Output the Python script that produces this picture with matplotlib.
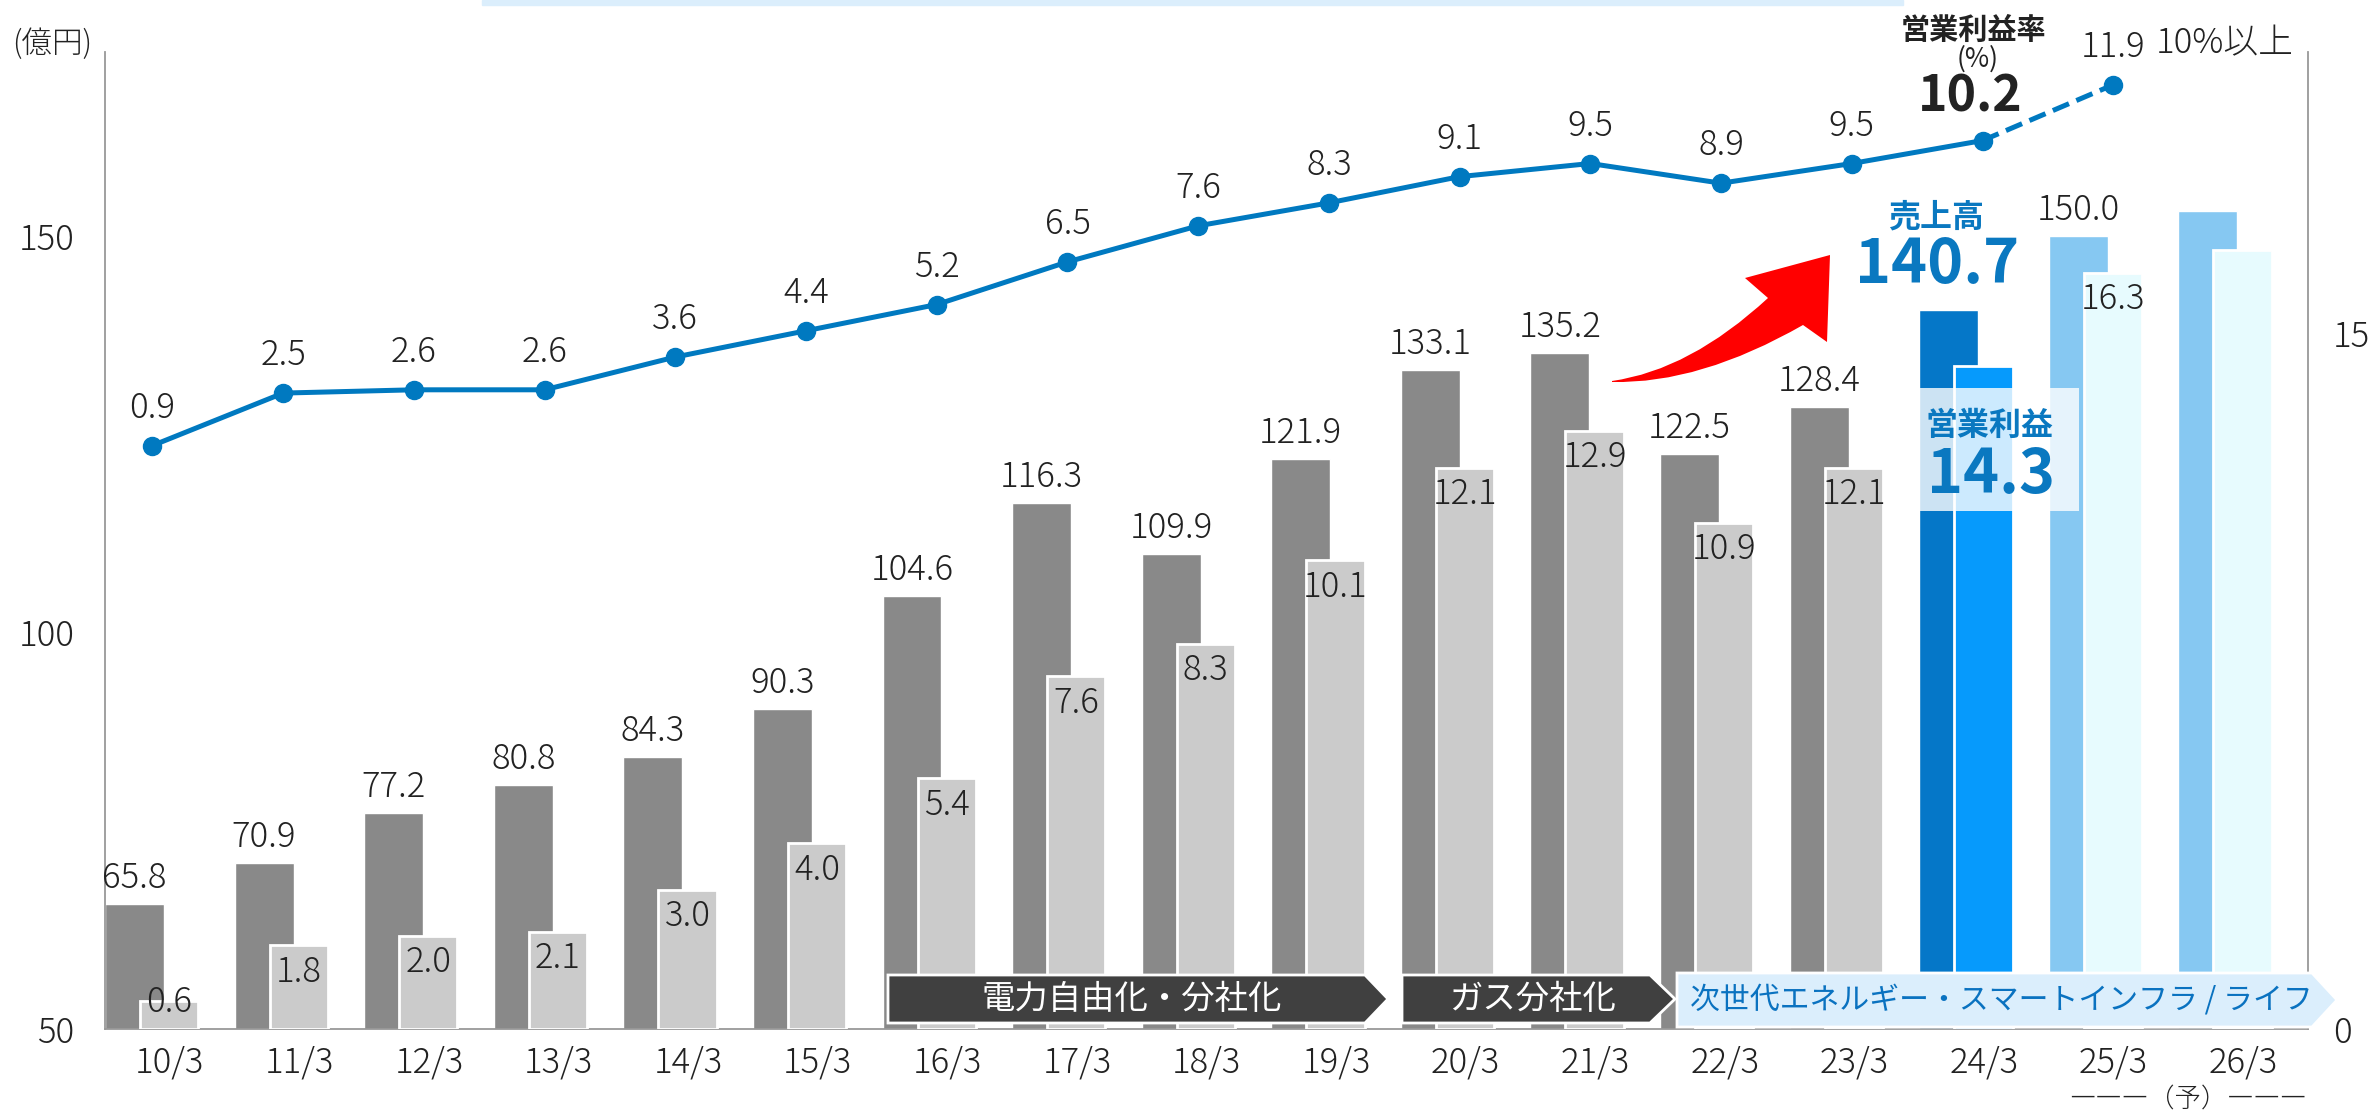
import numpy as np
import matplotlib.pyplot as plt
import matplotlib.transforms as mtransforms
from matplotlib.patches import Polygon, Rectangle, PathPatch
from matplotlib.path import Path

plt.rcParams['font.family'] = ['Noto Sans CJK JP', 'DejaVu Sans']
plt.rcParams['font.weight'] = 'light'

years = ['10/3', '11/3', '12/3', '13/3', '14/3', '15/3', '16/3', '17/3', '18/3',
         '19/3', '20/3', '21/3', '22/3', '23/3', '24/3', '25/3', '26/3']
sales = [65.8, 70.9, 77.2, 80.8, 84.3, 90.3, 104.6, 116.3, 109.9,
         121.9, 133.1, 135.2, 122.5, 128.4, 140.7, 150.0, 153.2]   # 売上高 (億円)
profit = [0.6, 1.8, 2.0, 2.1, 3.0, 4.0, 5.4, 7.6, 8.3,
          10.1, 12.1, 12.9, 10.9, 12.1, 14.3, 16.3, 16.8]          # 営業利益 (億円)
margin = [0.9, 2.5, 2.6, 2.6, 3.6, 4.4, 5.2, 6.5, 7.6,
          8.3, 9.1, 9.5, 8.9, 9.5, 10.2, 11.9]                      # 営業利益率 (%)

sales_colors = ['#898989'] * 14 + ['#0577c8', '#86c8f2', '#86c8f2']
profit_colors = ['#cbcbcb'] * 14 + ['#069afc', '#e7fbfe', '#e7fbfe']
no_label = [14, 16]   # 24/3 gets the callout, 26/3 has no figures
cur = 14              # latest actual year

TXT = '#222222'
BLUE = '#0a78c0'
LINE = '#0079c0'
FS = 25

W, H = 2374, 1112
fig = plt.figure(figsize=(W / 100, H / 100), dpi=100)
# pixel coords, origin top-left, for the decorations
img = mtransforms.Affine2D().scale(1 / W, -1 / H).translate(0, 1) + fig.transFigure

pos = [105 / W, 1 - 1029 / H, (2308 - 105) / W, (1029 - 52) / H]
ax = fig.add_axes(pos)
ax2 = ax.twinx()
ax3 = fig.add_axes(pos)
ax3.axis('off')

x = np.arange(len(years))
ax.bar(x, sales, width=0.455, align='edge', color=sales_colors,
       edgecolor='white', linewidth=1.0)
ax2.bar(x + 0.27, profit, width=0.45, align='edge', color=profit_colors,
        edgecolor='white', linewidth=2.0)

ax.set_xlim(0, 17)
ax.set_ylim(50, 173.2)
ax2.set_ylim(0, 21.06)
ax.set_xticks(x + 0.5)
ax.set_xticklabels(years)
ax.set_yticks([50, 100, 150])
ax2.set_yticks([0, 15])
ax.tick_params(axis='x', length=0, pad=11, labelsize=FS, labelcolor=TXT)
ax.tick_params(axis='y', length=0, pad=22, labelsize=FS, labelcolor=TXT)
ax2.tick_params(axis='y', length=0, pad=18, labelsize=FS, labelcolor=TXT)

for s in ax2.spines.values():
    s.set_visible(False)
ax.spines['top'].set_visible(False)
for s in ['left', 'right', 'bottom']:
    ax.spines[s].set_color('#999999')
    ax.spines[s].set_linewidth(1.3)

# value labels
for i, v in enumerate(sales):
    if i in no_label:
        continue
    ax.annotate(f'{v:.1f}', (i + 0.2275, v), xytext=(0, 11.5), textcoords='offset points',
                ha='center', va='baseline', fontsize=FS, color=TXT)
for i, v in enumerate(profit):
    if i in no_label:
        continue
    off = -26 if v >= 1 else -8
    ax2.annotate(f'{v:.1f}', (i + 0.27 + 0.225, v), xytext=(0, off), textcoords='offset points',
                 ha='center', va='baseline', fontsize=FS, color=TXT)

# operating margin line, on its own x scale
xm = np.arange(len(margin))
ax3.set_xlim(-0.363, 16.49)
ax3.set_ylim(-16.89, 12.9)
ax3.plot(xm[cur:], margin[cur:], color=LINE, lw=3.6, ls=(0, (3.5, 1.6)),
         marker='o', ms=13, markevery=[1])
ax3.plot(xm[:cur + 1], margin[:cur + 1], color=LINE, lw=3.6, marker='o', ms=13)
for i, v in enumerate(margin):
    if i == cur:
        continue
    ax3.annotate(f'{v:.1f}', (i, v), xytext=(0, 20), textcoords='offset points',
                 ha='center', va='baseline', fontsize=FS, color=TXT)

# top strip
fig.patches.append(Rectangle((482, 0), 1421, 4.5, transform=img, color='#dbeefc'))

# red growth arrow
arrow = Path([(1612, 381), (1690, 370), (1768, 298), (1745, 278), (1830, 255),
              (1827, 342), (1803, 325), (1700, 384), (1612, 382), (1612, 381)],
             [Path.MOVETO, Path.CURVE3, Path.CURVE3, Path.LINETO, Path.LINETO,
              Path.LINETO, Path.LINETO, Path.CURVE3, Path.CURVE3, Path.CLOSEPOLY])
ax3.add_patch(PathPatch(arrow, transform=img, facecolor='#ff0000', edgecolor='none', clip_on=False))

# callouts
ax3.add_patch(Rectangle((1920, 388), 159, 123, transform=img, facecolor='white',
                        alpha=0.8, edgecolor='none', clip_on=False))
ax3.text(1936, 227, '売上高', transform=img, ha='center', va='baseline',
         fontsize=23, fontweight='bold', color=BLUE)
ax3.text(1937, 283, f'{sales[cur]:.1f}', transform=img, ha='center', va='baseline',
         fontsize=44, fontweight='bold', color=BLUE)
ax3.text(1990, 435, '営業利益', transform=img, ha='center', va='baseline',
         fontsize=23, fontweight='bold', color=BLUE)
ax3.text(1991, 493, f'{profit[cur]:.1f}', transform=img, ha='center', va='baseline',
         fontsize=44, fontweight='bold', color=BLUE)
ax3.text(1974, 39, '営業利益率', transform=img, ha='center', va='baseline',
         fontsize=21, fontweight='bold', color=TXT)
ax3.text(1978, 67, '(%)', transform=img, ha='center', va='baseline',
         fontsize=19, fontweight='normal', color=TXT)
ax3.text(1970, 112, f'{margin[cur]:.1f}', transform=img, ha='center', va='baseline',
         fontsize=36, fontweight='bold', color=TXT)
ax3.text(2225, 53, '10%以上', transform=img, ha='center', va='baseline',
         fontsize=FS, color=TXT)
fig.text(52, 53, '(億円)', transform=img, ha='center', va='baseline', fontsize=22, color=TXT)
fig.text(2188, 1107, '―――（予）―――', transform=img, ha='center', va='baseline',
         fontsize=19, color=TXT)

# era banners along the bottom
banners = [
    ([(888, 975), (1365, 975), (1388, 999), (1365, 1023), (888, 1023)],
     '#404040', '電力自由化・分社化', 'white', 24),
    ([(1402, 975), (1650, 975), (1675, 999), (1650, 1023), (1402, 1023)],
     '#404040', 'ガス分社化', 'white', 24),
    ([(1677, 973), (2312, 973), (2337, 1000), (2312, 1027), (1677, 1027)],
     '#dbeefc', '次世代エネルギー・スマートインフラ / ライフ', '#0a72c0', 21.5),
]
text_x = [1132, 1532, 2001]
for (pts, fc, label, tc, fs), tx in zip(banners, text_x):
    ax3.add_patch(Polygon(pts, closed=True, transform=img, facecolor=fc,
                          edgecolor='white', linewidth=2, clip_on=False))
    ax3.text(tx, 1000, label, transform=img, ha='center', va='center',
             fontsize=fs, fontweight='normal', color=tc)

fig.savefig('out.png', dpi=100)
